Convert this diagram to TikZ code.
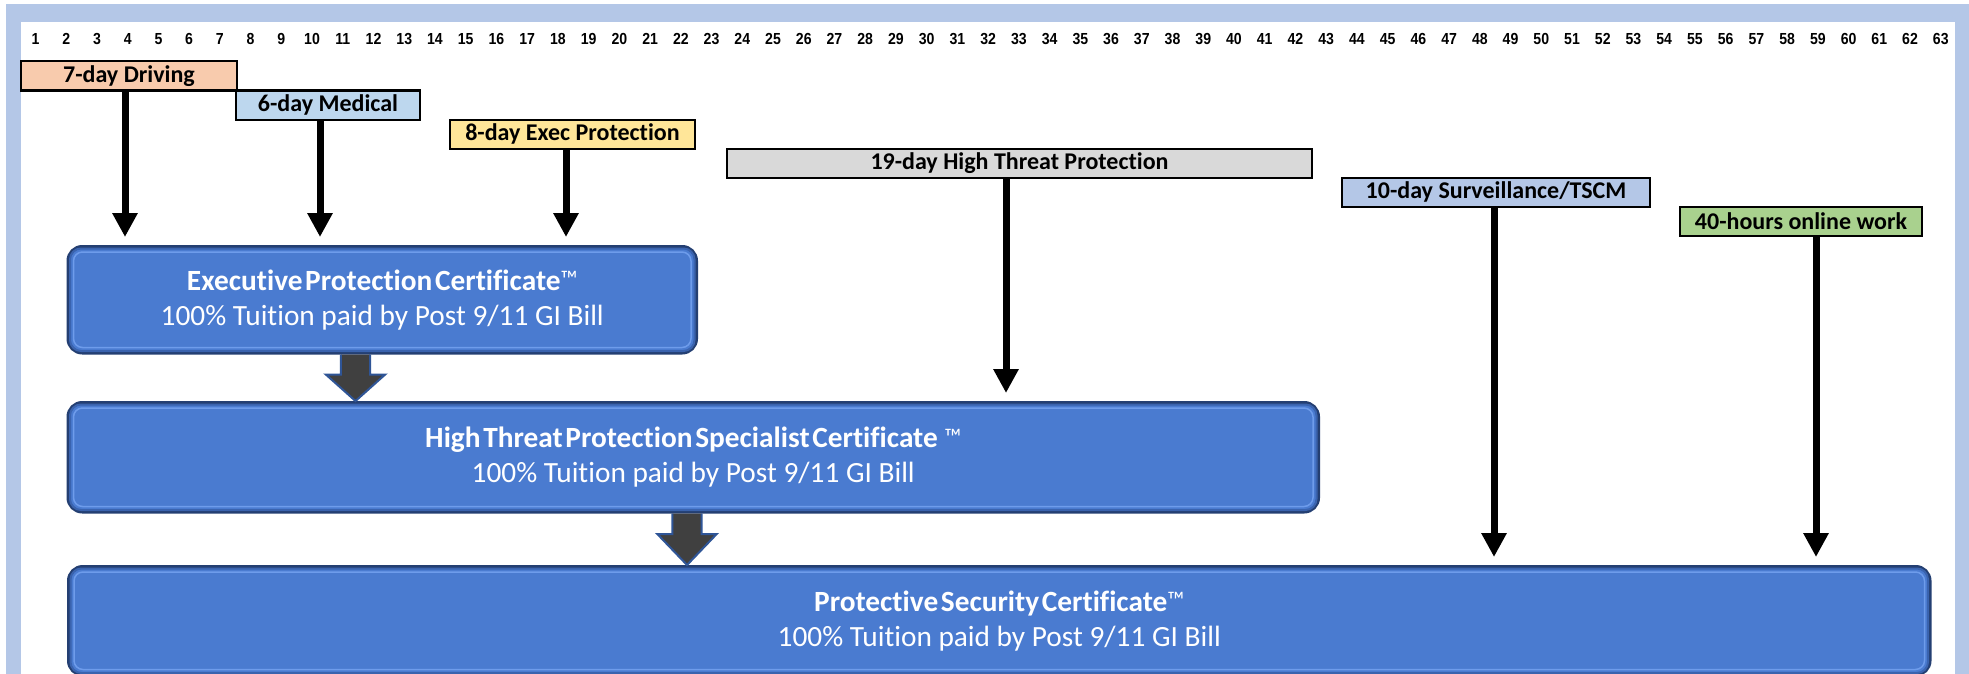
\documentclass[tikz,border=0pt]{standalone}
\usepackage{fontspec}
\setmainfont{Carlito}[Ligatures={NoCommon}]
\newfontfamily\numfont[FakeStretch=0.88]{Liberation Sans}
\usetikzlibrary{calc,arrows.meta}
\newdimen\pxu \pxu=0.75pt
\definecolor{framec}{HTML}{B4C7E7}
\definecolor{drvc}{HTML}{F8CBAD}
\definecolor{medc}{HTML}{BDD7EE}
\definecolor{exec}{HTML}{FFE699}
\definecolor{highc}{HTML}{D9D9D9}
\definecolor{survc}{HTML}{B4C7E7}
\definecolor{onlc}{HTML}{A9D18E}
\definecolor{boxc}{HTML}{4A7BD0}
\definecolor{boxedge}{HTML}{243F72}
\definecolor{boxlight}{HTML}{6E9CEB}
\definecolor{boxdark}{HTML}{3A63AE}
\definecolor{blockc}{HTML}{404040}
\definecolor{blockedge}{HTML}{2F5597}
\newcommand\tmark{{\mdseries\fontsize{18}{18}\selectfont\raisebox{2pt}{™}}}
\tikzset{
  bar/.style={draw=black, line width=2\pxu, minimum height=29\pxu, inner sep=0pt,
    anchor=north west, font=\fontsize{18}{21}\selectfont\bfseries, text=black},
  cert/.style={fill=boxc, draw=boxedge, line width=3.5\pxu, rounded corners=14\pxu,
    inner sep=0pt, anchor=north west, align=center, text=white,
    font=\fontsize{22}{26.25}\selectfont},
  bevel/.style={draw=boxlight, line width=1.5\pxu, rounded corners=9\pxu},
  bevdark/.style={draw=boxdark, line width=2\pxu, rounded corners=11\pxu},
  arr/.style={line width=5.25pt, -{Triangle[width=18pt,length=18pt]}, shorten >=6pt},
  block/.style={fill=blockc, draw=blockedge, line width=2\pxu, line join=miter},
  num/.style={font=\numfont\fontsize{12}{13}\selectfont\bfseries, inner sep=0pt}
}
\begin{document}
\begin{tikzpicture}[x=0.75pt,y=-0.75pt]
\useasboundingbox (0,0) rectangle (1969,674);
% frame
\fill[framec] (6,4) rectangle (1969,674);
\fill[white] (21,22) rectangle (1955,674);
% day numbers
\foreach \k in {1,...,63} {
  \node[num] (n\k) at ({35.5+(\k-1)*30.73},39) {\k};
}
% course bars
\node[bar, fill=drvc, minimum width=216\pxu] (drv) at (20,60.5) {7-day Driving};
\node[bar, fill=medc, minimum width=184\pxu] (med) at (235,89.5) {6-day Medical};
\node[bar, fill=exec, minimum width=245\pxu] (exe) at (449,118.5) {8-day Exec Protection};
\node[bar, fill=highc, minimum width=585\pxu] (hig) at (726,147.5) {19-day High Threat Protection};
\node[bar, fill=survc, minimum width=308\pxu] (sur) at (1341,176.5) {10-day Surveillance/TSCM};
\node[bar, fill=onlc, minimum width=242\pxu] (onl) at (1679,205.5) {40-hours online work};
% certificates
\node[cert, minimum width=628\pxu, minimum height=106\pxu] (epc) at (66.5,245)
  {{\bfseries Executive\hspace{2pt}Protection\hspace{2pt}Certificate\tmark}\\100\% Tuition paid by Post 9/11 GI Bill};
\node[cert, minimum width=1250\pxu, minimum height=109\pxu] (htp) at (66.5,401)
  {{\bfseries High\hspace{2pt}Threat\hspace{2pt}Protection\hspace{2pt}Specialist\hspace{2pt}Certificate \tmark}\\100\% Tuition paid by Post 9/11 GI Bill};
\node[cert, minimum width=1861\pxu, minimum height=108\pxu] (psc) at (67,565)
  {{\bfseries Protective\hspace{2pt}Security\hspace{2pt}Certificate\tmark}\\100\% Tuition paid by Post 9/11 GI Bill};
\foreach \b in {epc,htp,psc} {
  \draw[bevdark] ([shift={(3.5,3.5)}]\b.north west) rectangle ([shift={(-3.5,-3.5)}]\b.south east);
  \draw[bevel] ([shift={(7,7)}]\b.north west) rectangle ([shift={(-7,-7)}]\b.south east);
}
% arrow columns
\coordinate (xa) at (125,0);
\coordinate (xb) at (320,0);
\coordinate (xc) at (566,0);
\coordinate (xd) at (1006,0);
\coordinate (xe) at (1494,0);
\coordinate (xf) at (1816,0);
\draw[arr] (drv.south -| xa) -- (epc.north -| xa);
\draw[arr] (med.south -| xb) -- (epc.north -| xb);
\draw[arr] (exe.south -| xc) -- (epc.north -| xc);
\draw[arr] (hig.south -| xd) -- (htp.north -| xd);
\draw[arr] (sur.south -| xe) -- (psc.north -| xe);
\draw[arr] (onl.south -| xf) -- (psc.north -| xf);
% block arrows
\coordinate (ba) at (355.5,0);
\coordinate (bb) at (687,0);
\coordinate (ta) at (epc.south -| ba);
\coordinate (tb) at (htp.south -| bb);
\draw[block] ($(ta)+(-14.7,0)$) -- ($(ta)+(-14.7,20)$) -- ($(ta)+(-29.7,20)$)
  -- (htp.north -| ba) -- ($(ta)+(29.7,20)$) -- ($(ta)+(14.7,20)$) -- ($(ta)+(14.7,0)$);
\draw[block] ($(tb)+(-14.7,0)$) -- ($(tb)+(-14.7,20.5)$) -- ($(tb)+(-29.7,20.5)$)
  -- (psc.north -| bb) -- ($(tb)+(29.7,20.5)$) -- ($(tb)+(14.7,20.5)$) -- ($(tb)+(14.7,0)$);
\end{tikzpicture}
\end{document}
